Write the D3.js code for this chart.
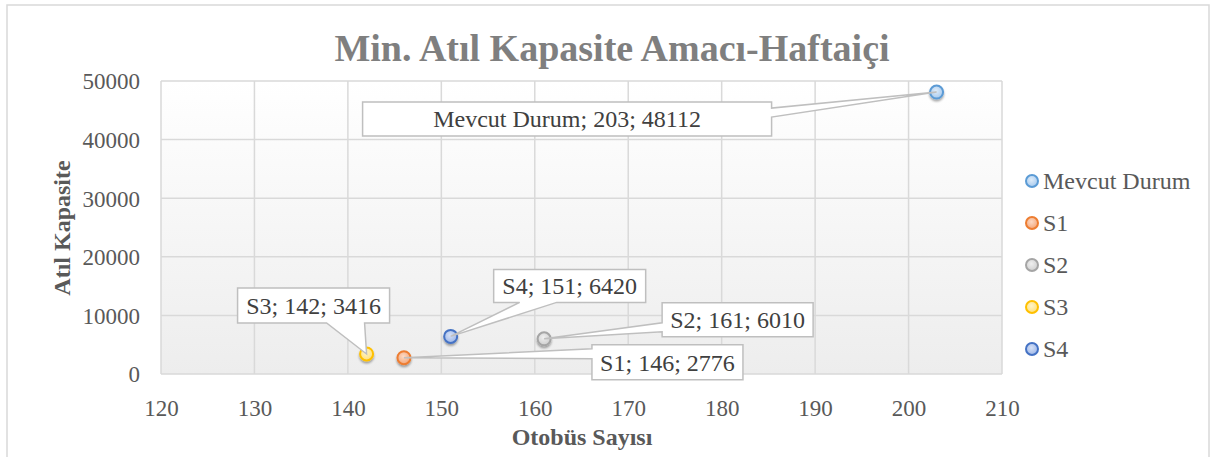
<!DOCTYPE html>
<html>
<head>
<meta charset="utf-8">
<script src="https://cdn.jsdelivr.net/npm/d3@7"></script>
<style>
  body { margin: 0; background: #fff; }
  svg text { font-family: "Liberation Serif", "Times New Roman", serif; }
</style>
</head>
<body>
<div id="chart"></div>
<script>
// data
var seriesNames = ["Mevcut Durum", "S1", "S2", "S3", "S4"];
var busCounts = [203, 146, 161, 142, 151];
var idleCapacity = [48112, 2776, 6010, 3416, 6420];
var xTickValues = [120, 130, 140, 150, 160, 170, 180, 190, 200, 210];
var yTickValues = [0, 10000, 20000, 30000, 40000, 50000];

var chartTitle = "Min. Atıl Kapasite Amacı-Haftaiçi";
var xTitle = "Otobüs Sayısı";
var yTitle = "Atıl Kapasite";

// styles
var strokeColors = ["#5b9bd5", "#ed7d31", "#a5a5a5", "#ffc000", "#4472c4"];
var innerColors = ["#dfecf9", "#fcdac5", "#efefef", "#fff4c8", "#d6e1f6"];
var outerColors = ["#a7caee", "#f4a679", "#cfcfcf", "#ffdf78", "#9db6e8"];

// callout boxes: offset from point, size, side of the wedge and its base
var callouts = {
  "Mevcut Durum": { dx: -574, dy: 10, w: 409, h: 34, side: "right", a1: 6, a2: 15 },
  "S1": { dx: 188, dy: -13, w: 151, h: 35, side: "left", a1: 4, a2: 14 },
  "S2": { dx: 118, dy: -36, w: 151, h: 34, side: "left", a1: 20, a2: 29 },
  "S3": { dx: -129, dy: -66, w: 152, h: 35, side: "bottom", a1: 89, a2: 127 },
  "S4": { dx: 43, dy: -67, w: 152, h: 33, side: "bottom", a1: 26, a2: 63 }
};

var width = 1217, height = 457;
var plot = { left: 161, right: 1002, top: 81, bottom: 374 };

var data = seriesNames.map(function(n, i) {
  return { name: n, x: busCounts[i], y: idleCapacity[i], i: i };
});

var svg = d3.select("#chart").append("svg")
  .attr("width", width)
  .attr("height", height);

var defs = svg.append("defs");

var bg = defs.append("linearGradient").attr("id", "plotbg")
  .attr("x1", 0).attr("y1", 0).attr("x2", 0).attr("y2", 1);
bg.append("stop").attr("offset", "0%").attr("stop-color", "#ffffff");
bg.append("stop").attr("offset", "100%").attr("stop-color", "#ededed");

var shadow = defs.append("filter").attr("id", "shadow")
  .attr("x", "-50%").attr("y", "-50%").attr("width", "200%").attr("height", "200%");
shadow.append("feDropShadow")
  .attr("dx", 0).attr("dy", 2).attr("stdDeviation", 1.3)
  .attr("flood-color", "#000").attr("flood-opacity", 0.35);

seriesNames.forEach(function(n, i) {
  var g = defs.append("radialGradient").attr("id", "mk" + i)
    .attr("cx", "45%").attr("cy", "40%").attr("r", "60%");
  g.append("stop").attr("offset", "0%").attr("stop-color", innerColors[i]);
  g.append("stop").attr("offset", "100%").attr("stop-color", outerColors[i]);
});

// outer frame
svg.append("rect")
  .attr("x", 7).attr("y", 5)
  .attr("width", 1202).attr("height", 470)
  .attr("fill", "none")
  .attr("stroke", "#d9d9d9")
  .attr("stroke-width", 1.5);

var x = d3.scaleLinear().domain([120, 210]).range([plot.left, plot.right]);
var y = d3.scaleLinear().domain([0, 50000]).range([plot.bottom, plot.top]);

svg.append("rect")
  .attr("x", plot.left).attr("y", plot.top)
  .attr("width", plot.right - plot.left)
  .attr("height", plot.bottom - plot.top)
  .attr("fill", "url(#plotbg)");

// grid
var grid = svg.append("g").attr("stroke", "#d9d9d9").attr("stroke-width", 1.5);
grid.selectAll(".vx").data(xTickValues).enter().append("line")
  .attr("x1", function(d) { return x(d); })
  .attr("x2", function(d) { return x(d); })
  .attr("y1", plot.top).attr("y2", plot.bottom);
grid.selectAll(".hy").data(yTickValues).enter().append("line")
  .attr("x1", plot.left).attr("x2", plot.right)
  .attr("y1", function(d) { return y(d); })
  .attr("y2", function(d) { return y(d); });

// axes, Excel style: labels only
var xAxis = svg.append("g")
  .attr("transform", "translate(0," + plot.bottom + ")")
  .call(d3.axisBottom(x).tickValues(xTickValues).tickSize(0).tickPadding(26));
var yAxis = svg.append("g")
  .attr("transform", "translate(" + plot.left + ",0)")
  .call(d3.axisLeft(y).tickValues(yTickValues).tickSize(0).tickPadding(21)
    .tickFormat(d3.format("d")));
[xAxis, yAxis].forEach(function(a) {
  a.select(".domain").remove();
  a.selectAll("text")
    .attr("fill", "#595959")
    .style("font-family", "'Liberation Serif', serif")
    .style("font-size", "23px");
});
xAxis.selectAll("text").attr("dy", "0.71em");
yAxis.selectAll("text").attr("dy", "0.34em");

// titles
svg.append("text")
  .attr("x", 612).attr("y", 61)
  .attr("text-anchor", "middle")
  .attr("fill", "#7f7f7f")
  .style("font-size", "38px")
  .style("font-weight", "bold")
  .text(chartTitle);

svg.append("text")
  .attr("x", 582).attr("y", 445)
  .attr("text-anchor", "middle")
  .attr("fill", "#595959")
  .style("font-size", "24px")
  .style("font-weight", "bold")
  .text(xTitle);

svg.append("text")
  .attr("transform", "translate(70,228) rotate(-90)")
  .attr("text-anchor", "middle")
  .attr("fill", "#595959")
  .style("font-size", "24px")
  .style("font-weight", "bold")
  .text(yTitle);

// markers
svg.append("g").selectAll("circle")
  .data(data).enter().append("circle")
  .attr("cx", function(d) { return x(d.x); })
  .attr("cy", function(d) { return y(d.y); })
  .attr("r", 6.5)
  .attr("fill", function(d) { return "url(#mk" + d.i + ")"; })
  .attr("stroke", function(d) { return strokeColors[d.i]; })
  .attr("stroke-width", 2)
  .attr("filter", "url(#shadow)");

// callout labels
function calloutPath(px, py, c) {
  var bx = px + c.dx, by = py + c.dy, w = c.w, h = c.h;
  if (c.side === "right") {
    return "M" + bx + "," + by + "H" + (bx + w) + "V" + (by + c.a1) +
      "L" + px + "," + py + "L" + (bx + w) + "," + (by + c.a2) +
      "V" + (by + h) + "H" + bx + "Z";
  }
  if (c.side === "left") {
    return "M" + bx + "," + by + "H" + (bx + w) + "V" + (by + h) + "H" + bx +
      "V" + (by + c.a2) + "L" + px + "," + py + "L" + bx + "," + (by + c.a1) + "Z";
  }
  return "M" + bx + "," + by + "H" + (bx + w) + "V" + (by + h) +
    "H" + (bx + c.a2) + "L" + px + "," + py + "L" + (bx + c.a1) + "," + (by + h) +
    "H" + bx + "Z";
}

var labels = svg.append("g").selectAll("g")
  .data(data).enter().append("g");
labels.append("path")
  .attr("d", function(d) { return calloutPath(x(d.x), y(d.y), callouts[d.name]); })
  .attr("fill", "#ffffff")
  .attr("stroke", "#bfbfbf")
  .attr("stroke-width", 1.5)
  .attr("stroke-linejoin", "miter");
labels.append("text")
  .attr("x", function(d) { var c = callouts[d.name]; return x(d.x) + c.dx + c.w / 2; })
  .attr("y", function(d) { var c = callouts[d.name]; return y(d.y) + c.dy + c.h / 2; })
  .attr("dy", "0.35em")
  .attr("text-anchor", "middle")
  .attr("fill", "#404040")
  .style("font-size", "24px")
  .text(function(d) { return d.name + "; " + d.x + "; " + d.y; });

// legend
var legend = svg.append("g").selectAll("g")
  .data(seriesNames).enter().append("g")
  .attr("transform", function(d, i) { return "translate(1032," + (181 + i * 42) + ")"; });
legend.append("circle")
  .attr("r", 6)
  .attr("fill", function(d, i) { return "url(#mk" + i + ")"; })
  .attr("stroke", function(d, i) { return strokeColors[i]; })
  .attr("stroke-width", 2);
legend.append("text")
  .attr("x", 11)
  .attr("dy", "0.33em")
  .attr("fill", "#595959")
  .style("font-size", "24px")
  .text(function(d) { return d; });
</script>
</body>
</html>
